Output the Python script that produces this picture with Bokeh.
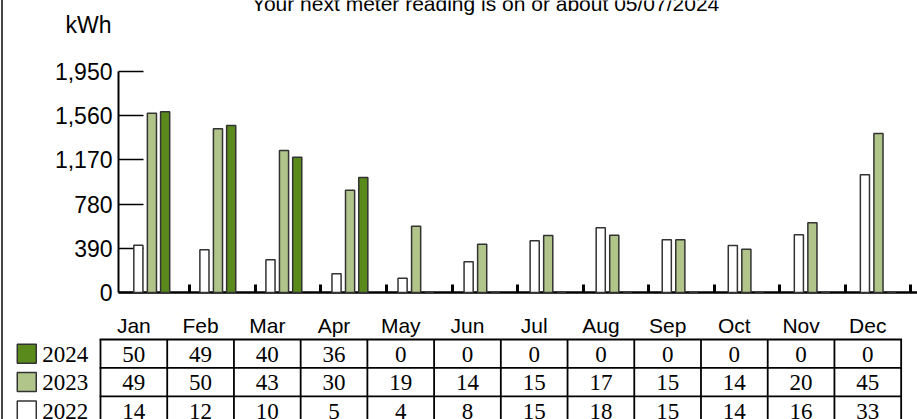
from bokeh.plotting import figure
from bokeh.models import (Range1d, FixedTicker, NumeralTickFormatter,
                          CustomJSTickFormatter, ColumnDataSource)
from bokeh.layouts import column
from bokeh.transform import dodge
from bokeh.core.properties import value
from bokeh.embed import file_html
from bokeh.resources import INLINE

# ---------------- data ----------------
months = ["Jan", "Feb", "Mar", "Apr", "May", "Jun",
          "Jul", "Aug", "Sep", "Oct", "Nov", "Dec"]
years = ["2024", "2023", "2022"]
kwh_2022 = [417, 377, 289, 165, 126, 271, 456, 571, 465, 415, 509, 1039]
kwh_2023 = [1582, 1445, 1253, 903, 585, 426, 503, 506, 465, 382, 615, 1403]
kwh_2024 = [1595, 1474, 1194, 1015, 0, 0, 0, 0, 0, 0, 0, 0]
tbl_2024 = [50, 49, 40, 36, 0, 0, 0, 0, 0, 0, 0, 0]
tbl_2023 = [49, 50, 43, 30, 19, 14, 15, 17, 15, 14, 20, 45]
tbl_2022 = [14, 12, 10, 5, 4, 8, 15, 18, 15, 14, 16, 33]
y_ticks = [0, 390, 780, 1170, 1560, 1950]
title_text = "Your next meter reading is on or about 05/07/2024"
unit_label = "kWh"

# ---------------- styles ----------------
C2024 = "#5b8a1c"
C2023 = "#b1c58b"
C2022 = "#ffffff"
EDGE = "#333333"
FONT_NAME = "Liberation Sans"
NARROW_NAME = "Liberation Sans Narrow"
W = 914

# ---------------- header (title + unit) ----------------
hdr = figure(width=W, height=71, output_backend="svg", toolbar_location=None,
             x_range=Range1d(0, 1), y_range=Range1d(0, 1), min_border=0,
             x_axis_type=None, y_axis_type=None, outline_line_color=None,
             frame_align=False)
hdr.grid.visible = False
hdr.text(x=[0.5274], y=[0.958], text=[title_text], text_align="center",
         text_baseline="middle", text_font=value(FONT_NAME),
         text_font_size="21px", text_color="black")
hdr.text(x=[0.1182], y=[0.655], text=[unit_label], text_align="right",
         text_baseline="middle", text_font=value(FONT_NAME),
         text_font_size="23px", text_color="black")

# ---------------- chart ----------------
idx = list(range(len(months)))
src = ColumnDataSource(dict(idx=idx, k22=kwh_2022, k23=kwh_2023, k24=kwh_2024))

p = figure(width=W, height=312, output_backend="svg", toolbar_location=None,
           x_range=Range1d(-0.506, 11.591), y_range=Range1d(0, 1950),
           min_border_left=115, min_border_right=0, min_border_top=71,
           min_border_bottom=20, outline_line_color=None, frame_align=False,
           background_fill_color=None, border_fill_color=None,
           margin=(-71, 0, 0, 0))
p.grid.visible = False

bw = 0.138
for col, off, color in (("k22", -0.205, C2022), ("k23", 0.0, C2023), ("k24", 0.2, C2024)):
    p.vbar(x=dodge("idx", off, range=p.x_range), top=col, width=bw, source=src,
           fill_color=color, line_color=EDGE, line_width=1.5, level="annotation")

ya = p.yaxis[0]
ya.ticker = FixedTicker(ticks=y_ticks)
ya.formatter = NumeralTickFormatter(format="0,0")
ya.major_tick_in = 25
ya.major_tick_out = 0
ya.major_tick_line_width = 1.5
ya.major_tick_line_color = "black"
ya.minor_tick_line_color = None
ya.axis_line_width = 2
ya.axis_line_color = "black"
ya.major_label_text_font = FONT_NAME
ya.major_label_text_font_size = "23px"
ya.major_label_text_color = "black"
ya.major_label_standoff = 6

xa = p.xaxis[0]
xa.ticker = FixedTicker(ticks=[0.574 + 0.99243 * k for k in range(12)])
xa.formatter = CustomJSTickFormatter(code="return ''")
xa.major_label_text_font_size = "0px"
xa.major_label_standoff = 0
xa.major_tick_in = 8
xa.major_tick_out = 0
xa.major_tick_line_width = 3
xa.major_tick_line_color = "black"
xa.minor_tick_line_color = None
xa.axis_line_width = 2.5
xa.axis_line_color = "black"

# ---------------- table ----------------
t = figure(width=W, height=119, output_backend="svg", toolbar_location=None,
           x_range=Range1d(-1.4538, 12.245), y_range=Range1d(-2.817, 1.373),
           min_border=0, x_axis_type=None, y_axis_type=None,
           outline_line_color=None, frame_align=False,
           background_fill_color=None, border_fill_color=None,
           margin=(-12, 0, 0, 0))
t.grid.visible = False

ncol = len(months)
nrow = len(years)
t.segment(x0=list(range(ncol + 1)), y0=[0] * (ncol + 1),
          x1=list(range(ncol + 1)), y1=[-nrow] * (ncol + 1),
          line_color="black", line_width=1.8)
t.segment(x0=[0] * (nrow + 1), y0=[-r for r in range(nrow + 1)],
          x1=[ncol] * (nrow + 1), y1=[-r for r in range(nrow + 1)],
          line_color="black", line_width=1.8, line_cap="square")

t.text(x=[j + 0.5 for j in idx], y=[0.486] * ncol, text=months,
       text_align="center", text_baseline="middle",
       text_font=value(FONT_NAME), text_font_size="21px", text_color="black")

rows = [tbl_2024, tbl_2023, tbl_2022]
cx, cy, ct = [], [], []
for r, vals in enumerate(rows):
    for j, v in enumerate(vals):
        cx.append(j + 0.5)
        cy.append(-r - 0.52)
        ct.append(str(v))
t.text(x=cx, y=cy, text=ct, text_align="center", text_baseline="middle",
       text_font=value(NARROW_NAME), text_font_size="23px", text_color="black")

t.scatter(x=[-1.105] * nrow, y=[-r - 0.5 for r in range(nrow)], marker="square",
          size=19, fill_color=[C2024, C2023, C2022], line_color=EDGE, line_width=1.5)
t.text(x=[-0.874] * nrow, y=[-r - 0.52 for r in range(nrow)], text=years,
       text_align="left", text_baseline="middle",
       text_font=value(NARROW_NAME), text_font_size="23px", text_color="black")

layout = column(hdr, p, t, styles={"margin-left": "1px",
                                   "border-left": "2px solid #444444"})

open("out.html", "w").write(file_html(layout, INLINE))
